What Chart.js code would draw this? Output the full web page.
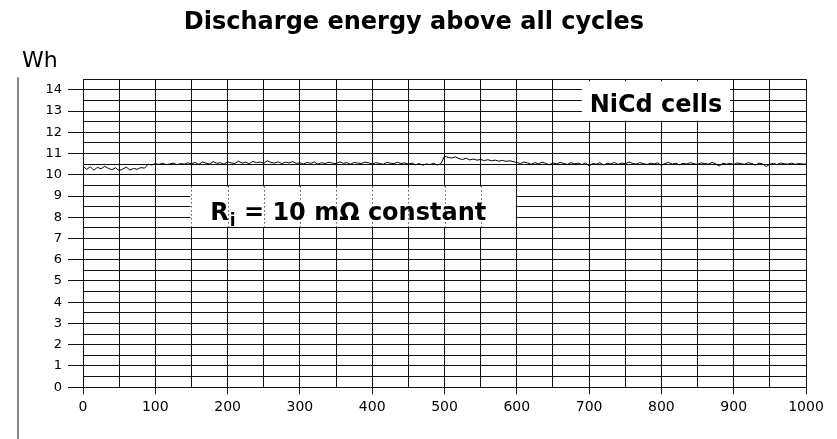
<!DOCTYPE html>
<html>
<head>
<meta charset="utf-8">
<script src="https://cdn.jsdelivr.net/npm/chart.js@4/dist/chart.umd.min.js"></script>
<style>
  html, body { margin: 0; padding: 0; background: #fff; }
  #wrap { width: 837px; height: 439px; }
</style>
</head>
<body>
<div id="wrap"><canvas id="chartEnergy" width="837" height="439"></canvas></div>
<script>
// cycle number (x) and discharge energy in Wh (y)
const cycles = [
  0, 5, 10, 15, 20, 25, 30, 35, 40, 45, 50, 55, 60, 65, 70, 75, 80, 85, 90, 95,
  100, 105, 110, 115, 120, 125, 130, 135, 140, 145, 150, 155, 160, 165, 170, 175, 180, 185, 190, 195,
  200, 205, 210, 215, 220, 225, 230, 235, 240, 245, 250, 255, 260, 265, 270, 275, 280, 285, 290, 295,
  300, 305, 310, 315, 320, 325, 330, 335, 340, 345, 350, 355, 360, 365, 370, 375, 380, 385, 390, 395,
  400, 405, 410, 415, 420, 425, 430, 435, 440, 445, 450, 455, 460, 465, 470, 475, 480, 485, 490, 495,
  500, 505, 510, 515, 520, 525, 530, 535, 540, 545, 550, 555, 560, 565, 570, 575, 580, 585, 590, 595,
  600, 605, 610, 615, 620, 625, 630, 635, 640, 645, 650, 655, 660, 665, 670, 675, 680, 685, 690, 695,
  700, 705, 710, 715, 720, 725, 730, 735, 740, 745, 750, 755, 760, 765, 770, 775, 780, 785, 790, 795,
  800, 805, 810, 815, 820, 825, 830, 835, 840, 845, 850, 855, 860, 865, 870, 875, 880, 885, 890, 895,
  900, 905, 910, 915, 920, 925, 930, 935, 940, 945, 950, 955, 960, 965, 970, 975, 980, 985, 990, 995,
  1000
];

const energyWh = [
  10.42, 10.25, 10.38, 10.22, 10.35, 10.28, 10.40, 10.30, 10.24, 10.33, 10.20, 10.27, 10.36, 10.22, 10.30, 10.26, 10.34, 10.31,
  10.50, 10.46, 10.52, 10.49, 10.54, 10.48, 10.51, 10.55, 10.47, 10.53, 10.50, 10.56,
  10.52, 10.58, 10.49, 10.60, 10.55, 10.51, 10.62, 10.54, 10.57, 10.50, 10.61, 10.56, 10.53, 10.64, 10.55,
  10.59, 10.52, 10.63, 10.57, 10.60, 10.54, 10.66, 10.58, 10.55, 10.61, 10.53, 10.59, 10.56, 10.62, 10.54,
  10.56, 10.51, 10.58, 10.54, 10.60, 10.50, 10.57, 10.53, 10.59, 10.55, 10.52, 10.61, 10.54, 10.57, 10.50, 10.58, 10.55, 10.53, 10.60, 10.56,
  10.51, 10.57, 10.54, 10.49, 10.58, 10.55, 10.52, 10.59, 10.53, 10.56, 10.50, 10.55, 10.47, 10.53, 10.45, 10.51, 10.48, 10.54, 10.46, 10.52,
  10.88, 10.82, 10.79, 10.84, 10.76, 10.72, 10.78, 10.70, 10.74, 10.69, 10.72, 10.67, 10.71, 10.66, 10.69, 10.64, 10.68, 10.63, 10.66, 10.62,
  10.58, 10.53, 10.60, 10.55, 10.50, 10.57, 10.52, 10.59, 10.54, 10.47, 10.56, 10.51, 10.58, 10.53, 10.49, 10.57, 10.52, 10.55, 10.48, 10.56,
  10.42, 10.53, 10.50, 10.57, 10.46, 10.54, 10.51, 10.58, 10.49, 10.55, 10.52, 10.60, 10.54, 10.50, 10.57, 10.53, 10.48, 10.55, 10.51, 10.56,
  10.44, 10.53, 10.58, 10.50, 10.55, 10.47, 10.54, 10.51, 10.57, 10.52, 10.49, 10.56, 10.53, 10.50, 10.58, 10.52, 10.41, 10.55, 10.50, 10.54,
  10.48, 10.56, 10.52, 10.50, 10.57, 10.53, 10.46, 10.55, 10.51, 10.39, 10.50, 10.54, 10.48, 10.56, 10.52, 10.50, 10.55, 10.49, 10.53, 10.51,
  10.50
];

const xTickStep = 50;
const yTickStep = 0.5;

const FONT = 'DejaVu Sans';
const GRID = '#111';

// white label boxes + text drawn on top of the grid, under the trace
const notesPlugin = {
  id: 'notes',
  beforeDatasetsDraw(chart) {
    const { ctx, scales: { x, y } } = chart;
    ctx.save();

    // R_i box, grid shows through it as dotted lines
    let l = x.getPixelForValue(150) - 1, r = x.getPixelForValue(600) - 1;
    let t = y.getPixelForValue(9.5) + 1, b = y.getPixelForValue(7.5) - 1;
    ctx.fillStyle = '#fff';
    ctx.fillRect(l, t, r - l, b - t);
    ctx.strokeStyle = '#000';
    ctx.lineWidth = 1;
    ctx.setLineDash([1, 3]);
    for (let c = 150; c < 600; c += 50) {
      const px = Math.round(x.getPixelForValue(c)) + 0.5;
      ctx.beginPath();
      ctx.moveTo(px, t);
      ctx.lineTo(px, b);
      ctx.stroke();
    }
    ctx.setLineDash([]);

    ctx.fillStyle = '#000';
    ctx.textBaseline = 'alphabetic';
    ctx.textAlign = 'left';
    let tx = x.getPixelForValue(176);
    const base = y.getPixelForValue(7.88);
    ctx.font = 'bold 24px "' + FONT + '"';
    ctx.fillText('R', tx, base);
    tx += ctx.measureText('R').width + 1;
    ctx.font = 'bold 17px "' + FONT + '"';
    ctx.fillText('i', tx, base + 6);
    tx += ctx.measureText('i').width;
    ctx.font = 'bold 24px "' + FONT + '"';
    ctx.fillText(' = 10 m\u03A9 constant', tx, base);

    // NiCd box
    l = x.getPixelForValue(690); r = x.getPixelForValue(895);
    t = y.getPixelForValue(14.4); b = y.getPixelForValue(12.5) - 1;
    ctx.fillStyle = '#fff';
    ctx.fillRect(l, t, r - l, b - t);
    ctx.fillStyle = '#000';
    ctx.textAlign = 'center';
    ctx.font = 'bold 24px "' + FONT + '"';
    ctx.fillText('NiCd cells', (l + r) / 2, y.getPixelForValue(12.95));

    ctx.restore();
  },
  afterDraw(chart) {
    // thin frame line at the far left of the scan
    const { ctx, chartArea } = chart;
    ctx.save();
    ctx.strokeStyle = '#888';
    ctx.lineWidth = 2;
    ctx.beginPath();
    ctx.moveTo(18, chartArea.top - 2);
    ctx.lineTo(18, chart.height);
    ctx.stroke();
    ctx.restore();
  }
};

new Chart(document.getElementById('chartEnergy'), {
  type: 'line',
  data: {
    datasets: [{
      data: cycles.map((c, i) => ({ x: c, y: energyWh[i] })),
      borderColor: '#000',
      borderWidth: 1,
      pointRadius: 0,
      tension: 0
    }]
  },
  options: {
    responsive: false,
    animation: false,
    layout: { padding: { left: 22, right: 31, top: 0, bottom: 18 } },
    plugins: {
      legend: { display: false },
      tooltip: { enabled: false },
      title: {
        display: true,
        text: 'Discharge energy above all cycles',
        color: '#000',
        font: { family: FONT, size: 24, weight: 'bold' },
        padding: { top: 8, bottom: 4 }
      },
      subtitle: {
        display: true,
        text: 'Wh',
        align: 'start',
        color: '#000',
        font: { family: FONT, size: 22, weight: 'normal' },
        padding: { top: 7, bottom: 5 }
      }
    },
    scales: {
      x: {
        type: 'linear',
        min: 0,
        max: 1000,
        ticks: {
          stepSize: xTickStep,
          autoSkip: false,
          maxRotation: 0,
          maxTicksLimit: 100,
          color: '#000',
          padding: 5,
          font: { family: FONT, size: 14 },
          callback: (v) => (v % 100 === 0 ? v : '')
        },
        grid: {
          color: GRID,
          lineWidth: 1,
          tickLength: 7,
          tickColor: (c) => (c.tick && c.tick.value % 100 === 0 ? GRID : 'rgba(0,0,0,0)')
        },
        border: { color: GRID, width: 1 }
      },
      y: {
        min: 0,
        max: 14.5,
        afterFit: (s) => { s.width = 61; },
        ticks: {
          stepSize: yTickStep,
          autoSkip: false,
          maxTicksLimit: 100,
          color: '#000',
          padding: 6,
          font: { family: FONT, size: 13 },
          callback: (v) => (v % 1 === 0 ? v : '')
        },
        grid: {
          color: GRID,
          lineWidth: 1,
          tickLength: 15,
          tickColor: (c) => (c.tick && c.tick.value % 1 === 0 ? GRID : 'rgba(0,0,0,0)')
        },
        border: { color: GRID, width: 1 }
      }
    }
  },
  plugins: [notesPlugin]
});
</script>
</body>
</html>
